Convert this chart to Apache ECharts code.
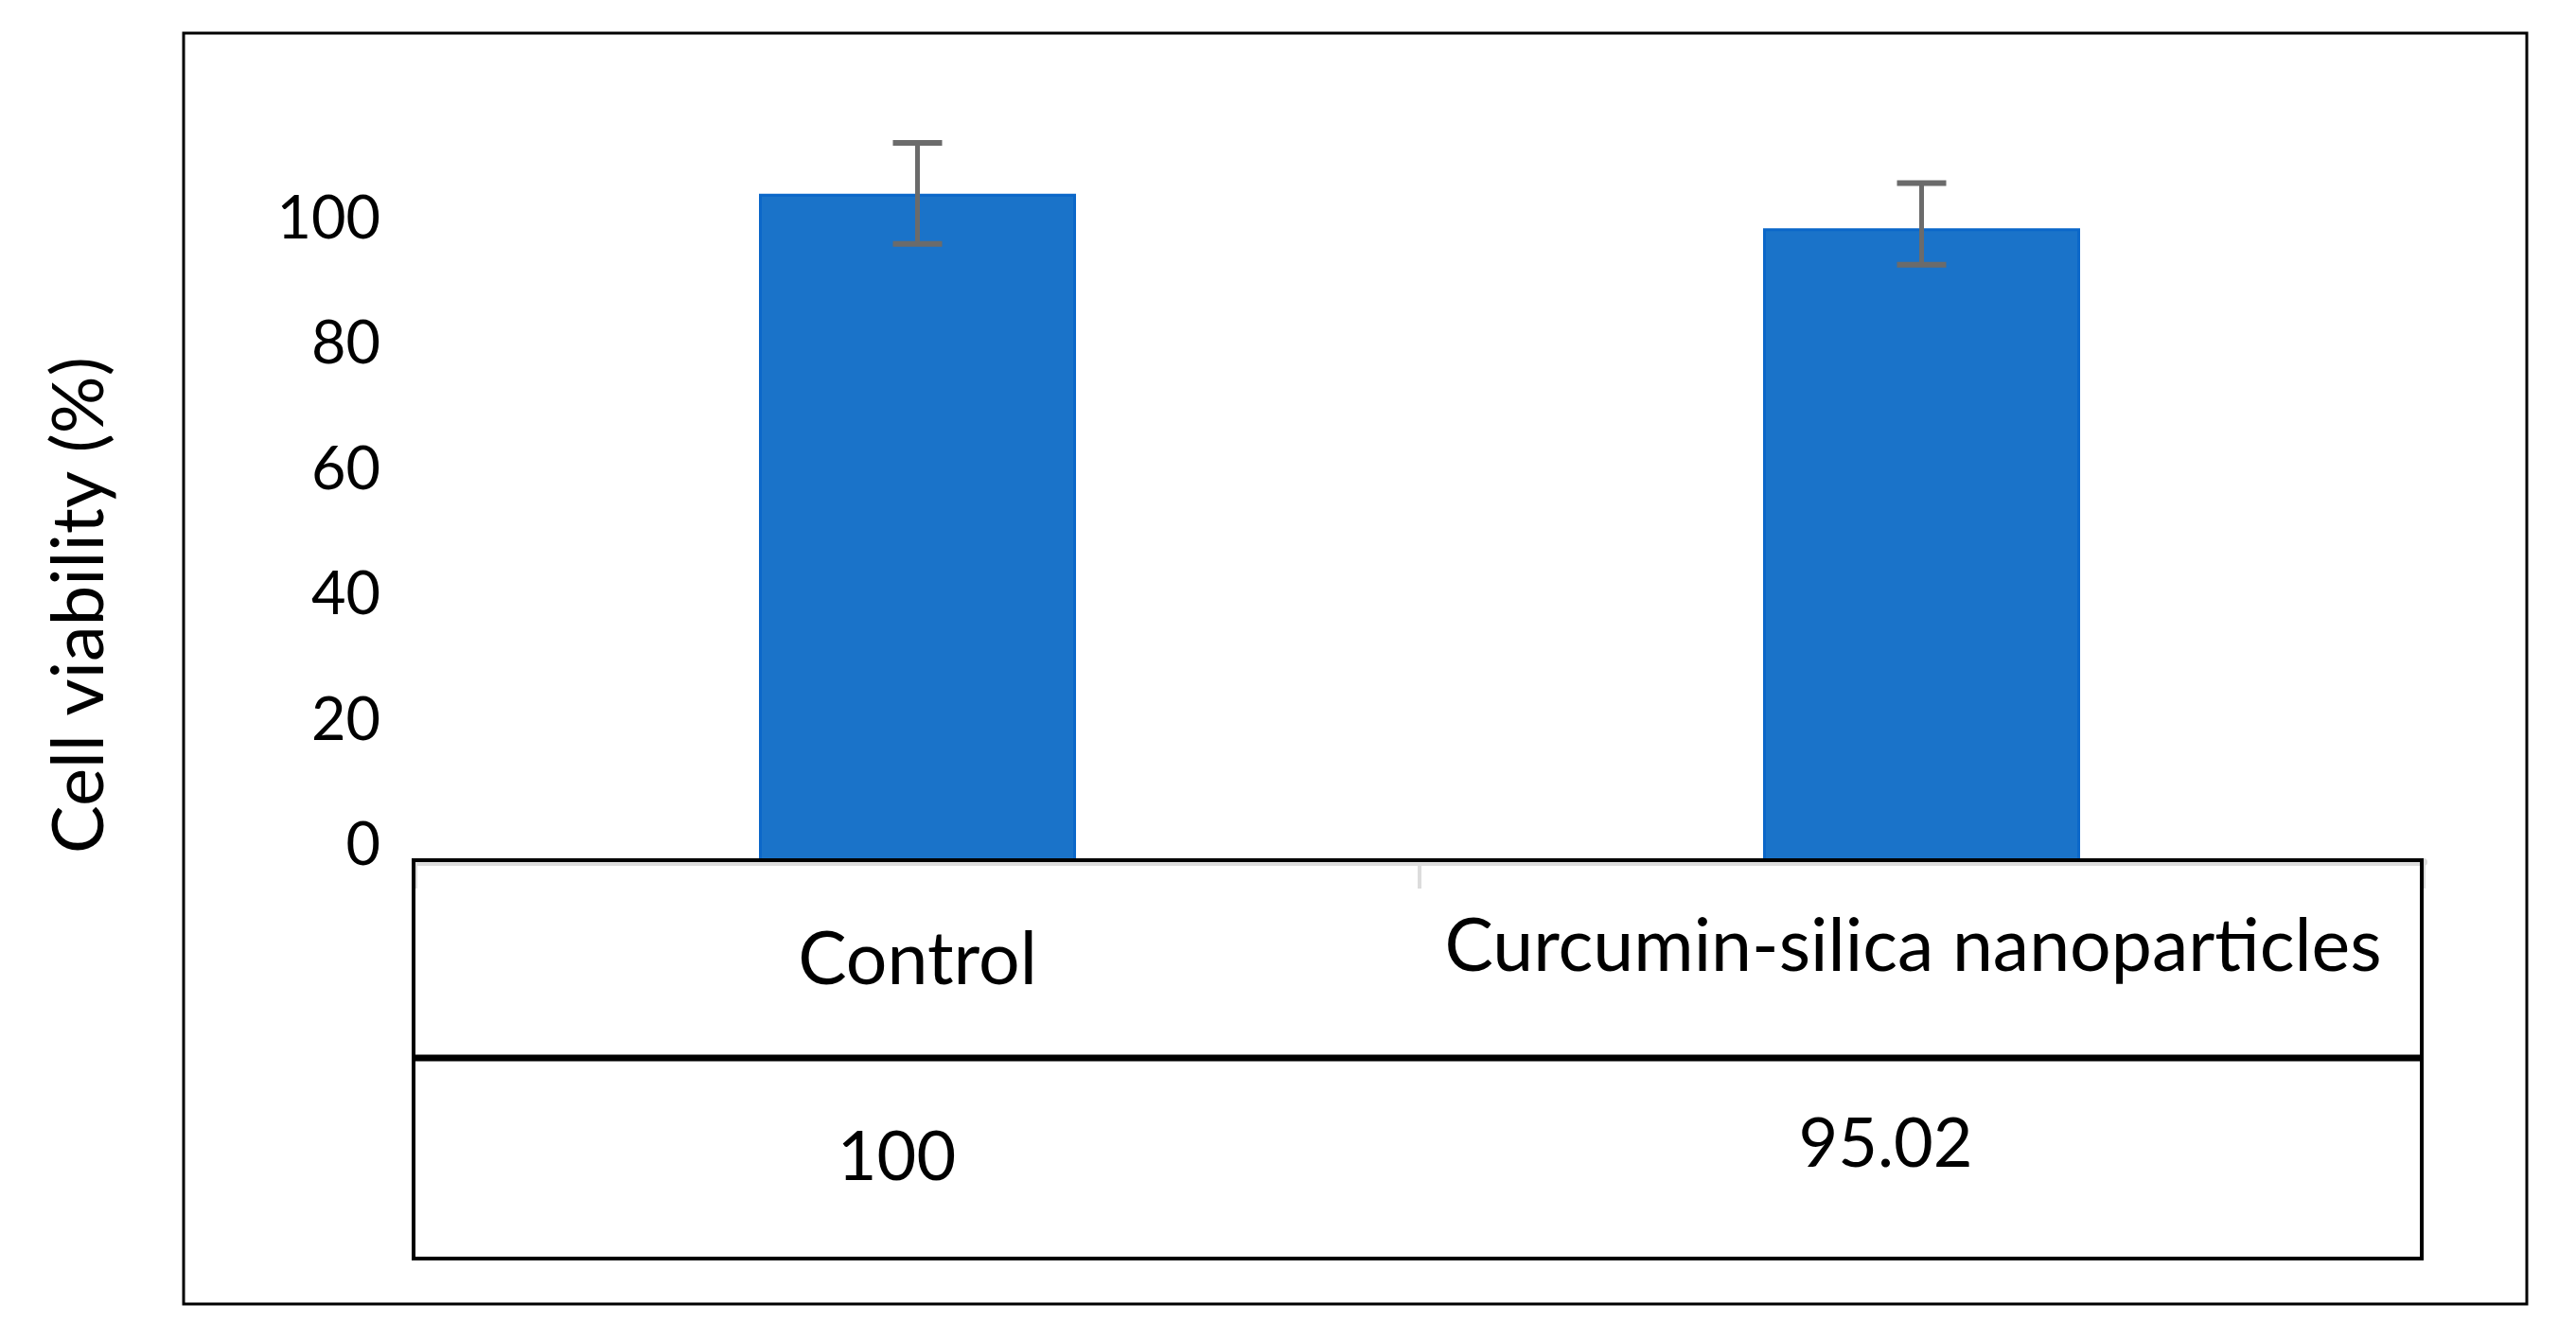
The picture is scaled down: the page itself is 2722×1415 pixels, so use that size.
<!DOCTYPE html>
<html>
<head>
<meta charset="utf-8">
<script src="https://cdn.jsdelivr.net/npm/echarts@6/dist/echarts.min.js"></script>
<style>
  html, body { margin: 0; padding: 0; background: #ffffff; }
  #chart { width: 2722px; height: 1415px; }
</style>
</head>
<body>
<div id="chart"></div>
<script>
// ---- data ----
const categories = ['Control', 'Curcumin-silica nanoparticles'];
const viability = [106.6, 101.1];      // bar heights
const errHigh = [114.7, 108.3];        // upper end of error bar
const errLow = [98.6, 95.3];           // lower end of error bar
const tableValues = ['100', '95.02'];  // data-table row
const yMin = 0, yMax = 120, yStep = 20;
const yTitle = 'Cell viability (%)';

// ---- layout ----
const GRID = { left: 439, right: 161, top: 116, bottom: 504 };
const W = 2722, H = 1415;
const FONT = 'Lato';

const chart = echarts.init(document.getElementById('chart'), null, { renderer: 'canvas' });

const errData = categories.map((c, i) => [i, errLow[i], errHigh[i]]);

const option = {
  backgroundColor: '#ffffff',
  animation: false,
  grid: GRID,
  xAxis: [
    {
      type: 'category',
      data: categories,
      boundaryGap: true,
      axisLine: { show: true, lineStyle: { color: '#dcdcdc', width: 8 } },
      axisTick: { show: true, length: 28, lineStyle: { color: '#dcdcdc', width: 4 } },
      axisLabel: {
        interval: 0,
        margin: 52,
        color: '#000',
        fontFamily: FONT,
        fontSize: 77,
        formatter: function (v, i) { return i === 0 ? '{a|' + v + '}' : '{b|' + v + '}'; },
        rich: {
          a: { fontFamily: FONT, fontSize: 77, color: '#000', padding: [14, 0, 0, 0] },
          b: { fontFamily: FONT, fontSize: 77, color: '#000', padding: [0, 18, 0, 0] }
        }
      },
      splitLine: { show: false }
    },
    {
      type: 'category',
      data: categories,
      position: 'bottom',
      gridIndex: 0,
      axisLine: { show: false },
      axisTick: { show: false },
      axisLabel: {
        interval: 0,
        margin: 263,
        color: '#000',
        fontFamily: FONT,
        fontSize: 72,
        formatter: function (v, i) { return i === 0 ? '{a|' + tableValues[i] + '}' : '{b|' + tableValues[i] + '}'; },
        rich: {
          a: { fontFamily: FONT, fontSize: 72, color: '#000', padding: [14, 44, 0, 0] },
          b: { fontFamily: FONT, fontSize: 72, color: '#000', padding: [0, 76, 0, 0] }
        }
      },
      splitLine: { show: false }
    }
  ],
  yAxis: {
    type: 'value',
    min: yMin,
    max: yMax,
    interval: yStep,
    axisLine: { show: false },
    axisTick: { show: false },
    splitLine: { show: false },
    axisLabel: {
      showMaxLabel: false,
      margin: 37,
      color: '#000',
      fontFamily: FONT,
      fontSize: 63,
      verticalAlign: 'bottom',
      lineHeight: 34
    },
    name: yTitle,
    nameLocation: 'middle',
    nameRotate: 90,
    nameGap: 317,
    nameTextStyle: {
      color: '#000',
      fontFamily: FONT,
      fontSize: 76,
      padding: [0, 252, 0, 0]
    }
  },
  series: [
    {
      type: 'bar',
      data: viability,
      barWidth: 335,
      itemStyle: { color: '#1a73c9', borderColor: '#0b67c9', borderWidth: 3 },
      z: 2
    },
    {
      type: 'custom',
      data: errData,
      z: 5,
      renderItem: function (params, api) {
        const i = api.value(0);
        const lo = api.coord([i, api.value(1)]);
        const hi = api.coord([i, api.value(2)]);
        const cap = 26;
        const st = { stroke: '#6b6b6b', lineWidth: 6 };
        return {
          type: 'group',
          children: [
            { type: 'line', shape: { x1: hi[0], y1: hi[1], x2: lo[0], y2: lo[1] }, style: { stroke: '#6b6b6b', lineWidth: 5 } },
            { type: 'line', shape: { x1: hi[0] - cap, y1: hi[1], x2: hi[0] + cap, y2: hi[1] }, style: st },
            { type: 'line', shape: { x1: lo[0] - cap, y1: lo[1], x2: lo[0] + cap, y2: lo[1] }, style: st }
          ]
        };
      }
    }
  ],
  graphic: [
    {
      type: 'rect', z: 100, silent: true,
      shape: { x: 194, y: 35, width: 2476, height: 1343 },
      style: { fill: 'none', stroke: '#000', lineWidth: 3 }
    },
    {
      type: 'rect', z: 100, silent: true,
      shape: { x: GRID.left - 2, y: H - GRID.bottom - 2, width: W - GRID.left - GRID.right, height: 421 },
      style: { fill: 'none', stroke: '#000', lineWidth: 4 }
    },
    {
      type: 'line', z: 100, silent: true,
      shape: { x1: GRID.left - 2, y1: 1118, x2: W - GRID.right - 2, y2: 1118 },
      style: { stroke: '#000', lineWidth: 7 }
    }
  ]
};

chart.setOption(option);
</script>
</body>
</html>
